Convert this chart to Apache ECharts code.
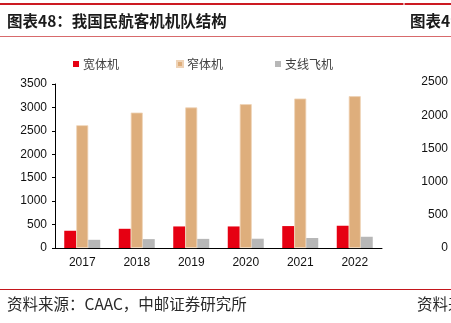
<!DOCTYPE html>
<html>
<head>
<meta charset="utf-8">
<script src="https://cdn.jsdelivr.net/npm/echarts@6/dist/echarts.min.js"></script>
<style>
html,body{margin:0;padding:0;background:#fff;}
#c{width:451px;height:323px;}
</style>
</head>
<body>
<div id="c"></div>
<script>
var categories = ['2017', '2018', '2019', '2020', '2021', '2022'];
var wideBody = [368, 410, 460, 460, 468, 475];
var narrowBody = [2620, 2890, 3000, 3070, 3190, 3240];
var regional = [175, 190, 195, 198, 213, 240];
var seriesNames = ['宽体机', '窄体机', '支线飞机'];
var leftTicks = [0, 3500, 500];
var rightTicks = [0, 2500, 500];

var CJK = '"Noto Sans CJK SC", sans-serif';
var NUM = '"Liberation Sans", Arial, sans-serif';
var colors = ['#E60012', '#DEAE7C', '#B7B7B7'];

var chart = echarts.init(document.getElementById('c'), null, {renderer: 'canvas'});

function legendAt(i, left) {
  return {
    data: [seriesNames[i]], left: left, top: 58, itemWidth: 6, itemHeight: 6,
    icon: 'rect', itemGap: 0, padding: 0, selectedMode: false,
    textStyle: {fontFamily: CJK, fontSize: 12, color: '#404040', padding: [0, 0, 0, -1]}
  };
}
function plain(v) { return String(v); }

chart.setOption({
  animation: false,
  color: colors,
  legend: [legendAt(0, 73), legendAt(1, 176), legendAt(2, 275)],
  grid: [
    {left: 55, top: 84, width: 327, height: 164, outerBoundsMode: 'none', containLabel: false},
    {left: 452, top: 82, width: 20, height: 166, outerBoundsMode: 'none', containLabel: false}
  ],
  xAxis: [
    {type: 'category', gridIndex: 0, data: categories,
     axisLine: {lineStyle: {color: '#000', width: 1}},
     axisTick: {show: false},
     axisLabel: {fontFamily: NUM, fontSize: 12, color: '#111', margin: 9}},
    {type: 'value', gridIndex: 1, min: 0, max: 1, show: false}
  ],
  yAxis: [
    {type: 'value', gridIndex: 0, min: leftTicks[0], max: leftTicks[1], interval: leftTicks[2],
     axisLine: {show: true, lineStyle: {color: '#000', width: 1}},
     axisTick: {show: true, length: 3, lineStyle: {color: '#000'}},
     splitLine: {show: false},
     axisLabel: {fontFamily: NUM, fontSize: 12, color: '#111', margin: 8, formatter: plain}},
    {type: 'value', gridIndex: 1, position: 'left', min: rightTicks[0], max: rightTicks[1], interval: rightTicks[2],
     axisLine: {show: false}, axisTick: {show: false}, splitLine: {show: false},
     axisLabel: {fontFamily: NUM, fontSize: 12, color: '#111', margin: 4, formatter: plain}}
  ],
  series: [
    {name: seriesNames[0], type: 'bar', data: wideBody, barWidth: 12, barGap: '0%',
     itemStyle: {color: colors[0]}},
    {name: seriesNames[1], type: 'bar', data: narrowBody, barWidth: 12, barGap: '0%',
     itemStyle: {color: colors[1], borderColor: '#EFD3B6', borderWidth: 0.8}},
    {name: seriesNames[2], type: 'bar', data: regional, barWidth: 12, barGap: '0%',
     itemStyle: {color: colors[2]}}
  ],
  graphic: [
    {type: 'rect', shape: {x: 0, y: 3, width: 451, height: 2}, style: {fill: '#CC1A22'}},
    {type: 'rect', shape: {x: 403, y: 3, width: 2, height: 2}, style: {fill: '#E59A9C'}},
    {type: 'rect', shape: {x: 0, y: 36, width: 451, height: 1}, style: {fill: '#D86A6C'}},
    {type: 'rect', shape: {x: 0, y: 289, width: 451, height: 1}, style: {fill: '#C4161C'}},
    {type: 'text', left: 7, top: 13,
     style: {text: '图表48：我国民航客机机队结构', font: 'bold 15.5px ' + CJK, fill: '#1a1a1a'}},
    {type: 'text', left: 410, top: 13,
     style: {text: '图表49', font: 'bold 15.5px ' + CJK, fill: '#1a1a1a'}},
    {type: 'text', left: 7, top: 296,
     style: {text: '资料来源：CAAC，中邮证券研究所', font: '15.5px ' + CJK, fill: '#2a2a2a'}},
    {type: 'text', left: 417, top: 296,
     style: {text: '资料来源', font: '15.5px ' + CJK, fill: '#2a2a2a'}}
  ]
});
</script>
</body>
</html>
